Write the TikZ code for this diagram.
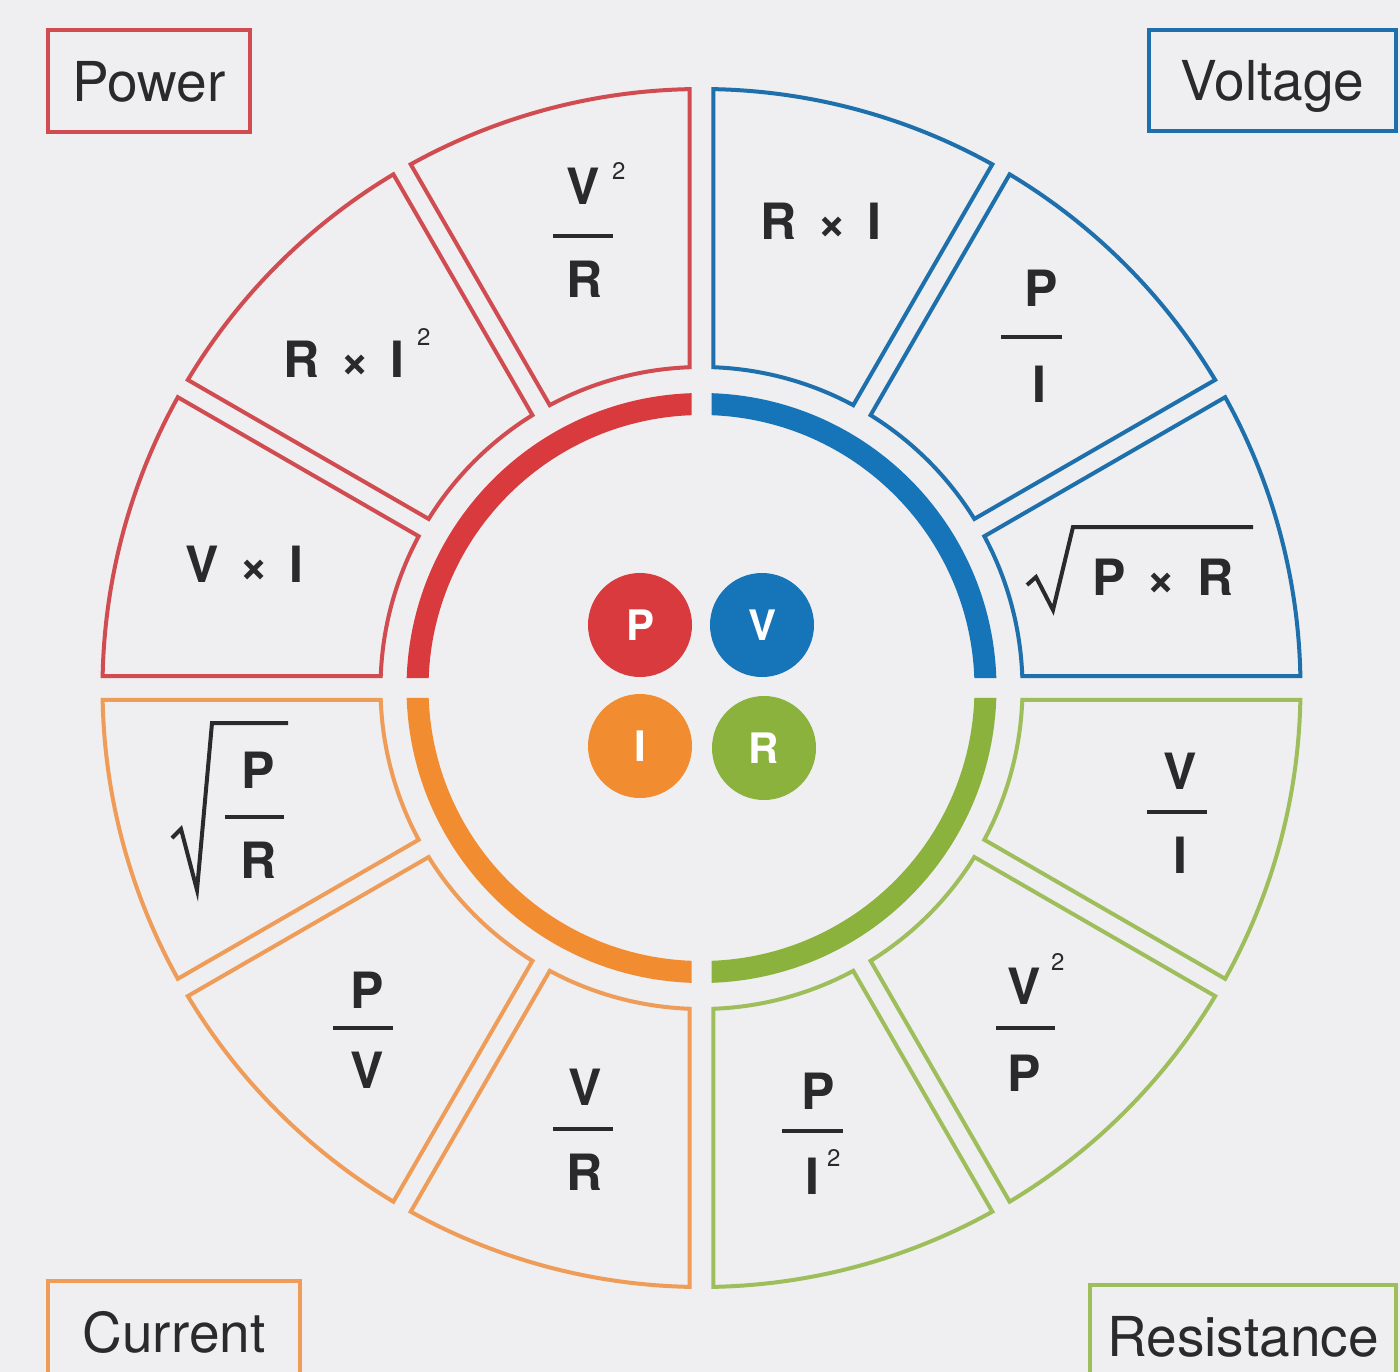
\documentclass[tikz,border=0pt]{standalone}
\usepackage{fontspec}
\setmainfont{TeX Gyre Heros}
\definecolor{bgc}{RGB}{239,238,240}
\definecolor{ink}{RGB}{42,42,44}
\definecolor{cred}{RGB}{216,58,62}
\definecolor{cblue}{RGB}{22,116,184}
\definecolor{corange}{RGB}{242,140,48}
\definecolor{cgreen}{RGB}{138,178,60}
\definecolor{lred}{RGB}{208,76,80}
\definecolor{lblue}{RGB}{30,112,172}
\definecolor{lorange}{RGB}{238,156,88}
\definecolor{lgreen}{RGB}{158,190,92}
\tikzset{
 fm/.style={font=\fontsize{50}{50}\selectfont\bfseries, text=ink, inner sep=0pt, anchor=base},
 supr/.style={font=\fontsize{24}{24}\selectfont, text=ink, inner sep=0pt, anchor=base west},
 fbar/.style={line width=4pt, draw=ink},
 root/.style={line width=4pt, draw=ink, line join=miter},
 seg/.style={line width=4pt, line join=miter},
 qbox/.style={draw, line width=3.5pt, inner sep=0pt, font=\fontsize{55}{55}\selectfont, text=ink, text depth=0pt},
 ball/.style={circle, inner sep=0pt, minimum size=104pt, text=white, font=\fontsize{42}{42}\selectfont\bfseries, text depth=0pt},
}
\newcommand\tms{\hspace{0.42em}×\hspace{0.42em}}
\begin{document}
\begin{tikzpicture}[x=1pt,y=1pt]
\useasboundingbox (0,0) rectangle (1400,-1372);
\clip (0,0) rectangle (1400,-1372);
\fill[bgc] (0,0) rectangle (1400,-1372);

% wheel
\begin{scope}[shift={(701.5,-688)}]
\foreach \a/\c in {0/lblue,30/lblue,60/lblue,90/lred,120/lred,150/lred,180/lorange,210/lorange,240/lorange,270/lgreen,300/lgreen,330/lgreen}{
  \pgfmathsetmacro\ds{mod(\a,90)==0 ? 12 : 10}
  \pgfmathsetmacro\de{mod(\a+30,90)==0 ? 12 : 10}
  \pgfmathsetmacro\oa{\a+asin(\ds/599)}
  \pgfmathsetmacro\ob{\a+30-asin(\de/599)}
  \pgfmathsetmacro\ia{\a+asin(\ds/321)}
  \pgfmathsetmacro\ib{\a+30-asin(\de/321)}
  \draw[seg,\c] (\oa:599pt) arc[start angle=\oa, end angle=\ob, radius=599pt]
     -- (\ib:321pt) arc[start angle=\ib, end angle=\ia, radius=321pt] -- cycle;
}
\foreach \a/\c in {0/cblue,90/cred,180/corange,270/cgreen}{
  \pgfmathsetmacro\oa{\a+asin(10/295)}
  \pgfmathsetmacro\ob{\a+90-asin(10/295)}
  \pgfmathsetmacro\ia{\a+asin(10/273)}
  \pgfmathsetmacro\ib{\a+90-asin(10/273)}
  \fill[\c] (\oa:295pt) arc[start angle=\oa, end angle=\ob, radius=295pt]
     -- (\ib:273pt) arc[start angle=\ib, end angle=\ia, radius=273pt] -- cycle;
}
\end{scope}

% centre balls
\node[ball, fill=cred] (bP) at (640,-625) {P};
\node[ball, fill=cblue] (bV) at (762,-625) {V};
\node[ball, fill=corange] (bI) at (640,-746) {I};
\node[ball, fill=cgreen] (bR) at (764,-748) {R};

% corner labels
\node[qbox, draw=lred, minimum width=202pt, minimum height=102pt] (power) at (149,-81) {Power};
\node[qbox, draw=lblue, minimum width=247pt, minimum height=101pt] (voltage) at (1272.5,-80.5) {Voltage};
\node[qbox, draw=lorange, minimum width=252pt, minimum height=102pt] (current) at (174,-1332) {Current};
\node[qbox, draw=lgreen, minimum width=306pt, minimum height=102pt] (resistance) at (1243,-1336) {Resistance};

% Voltage formulas
\node[fm] (vRI) at (821,-240) {R\tms I};
\node[fm] (vPn) at (1041,-307) {P};
\draw[fbar] (1001,-337) -- (1062,-337);
\node[fm] (vId) at (1039,-402) {I};
\draw[root] (1027,-585) -- (1036,-577) -- (1053,-610) -- (1073,-527) -- (1253,-527);
\node[fm] (vPR) at (1163,-595) {P\tms R};

% Power formulas
\node[fm] (pVn) at (583.5,-205) {V};
\node[supr] (pV2) at (612,-180) {2};
\draw[fbar] (553,-236) -- (613,-236);
\node[fm] (pRd) at (585,-298) {R};
\node[fm] (pRI) at (344,-377) {R\tms I};
\node[supr] (pI2) at (417,-345) {2};
\node[fm] (pVI) at (244.5,-582) {V\tms I};

% Current formulas
\draw[root] (172,-838) -- (181,-829) -- (197,-890) -- (212,-723) -- (288,-723);
\node[fm] (cPn) at (258,-788) {P};
\draw[fbar] (225,-817) -- (284,-817);
\node[fm] (cRd) at (259,-878) {R};
\node[fm] (cPn2) at (367,-1008) {P};
\draw[fbar] (333,-1028) -- (393,-1028);
\node[fm] (cVd) at (367,-1088) {V};
\node[fm] (cVn) at (585,-1105) {V};
\draw[fbar] (553,-1129) -- (613,-1129);
\node[fm] (cRd2) at (585,-1190) {R};

% Resistance formulas
\node[fm] (rPn) at (818,-1109) {P};
\draw[fbar] (782,-1131) -- (843,-1131);
\node[fm] (rId) at (812,-1194) {I};
\node[supr] (rI2) at (827,-1166) {2};
\node[fm] (rVn) at (1024,-1004) {V};
\node[supr] (rV2) at (1051,-970) {2};
\draw[fbar] (996,-1028) -- (1055,-1028);
\node[fm] (rPd) at (1024,-1091) {P};
\node[fm] (rVn2) at (1180,-789) {V};
\draw[fbar] (1147,-812) -- (1207,-812);
\node[fm] (rId2) at (1180,-873) {I};
\end{tikzpicture}
\end{document}
